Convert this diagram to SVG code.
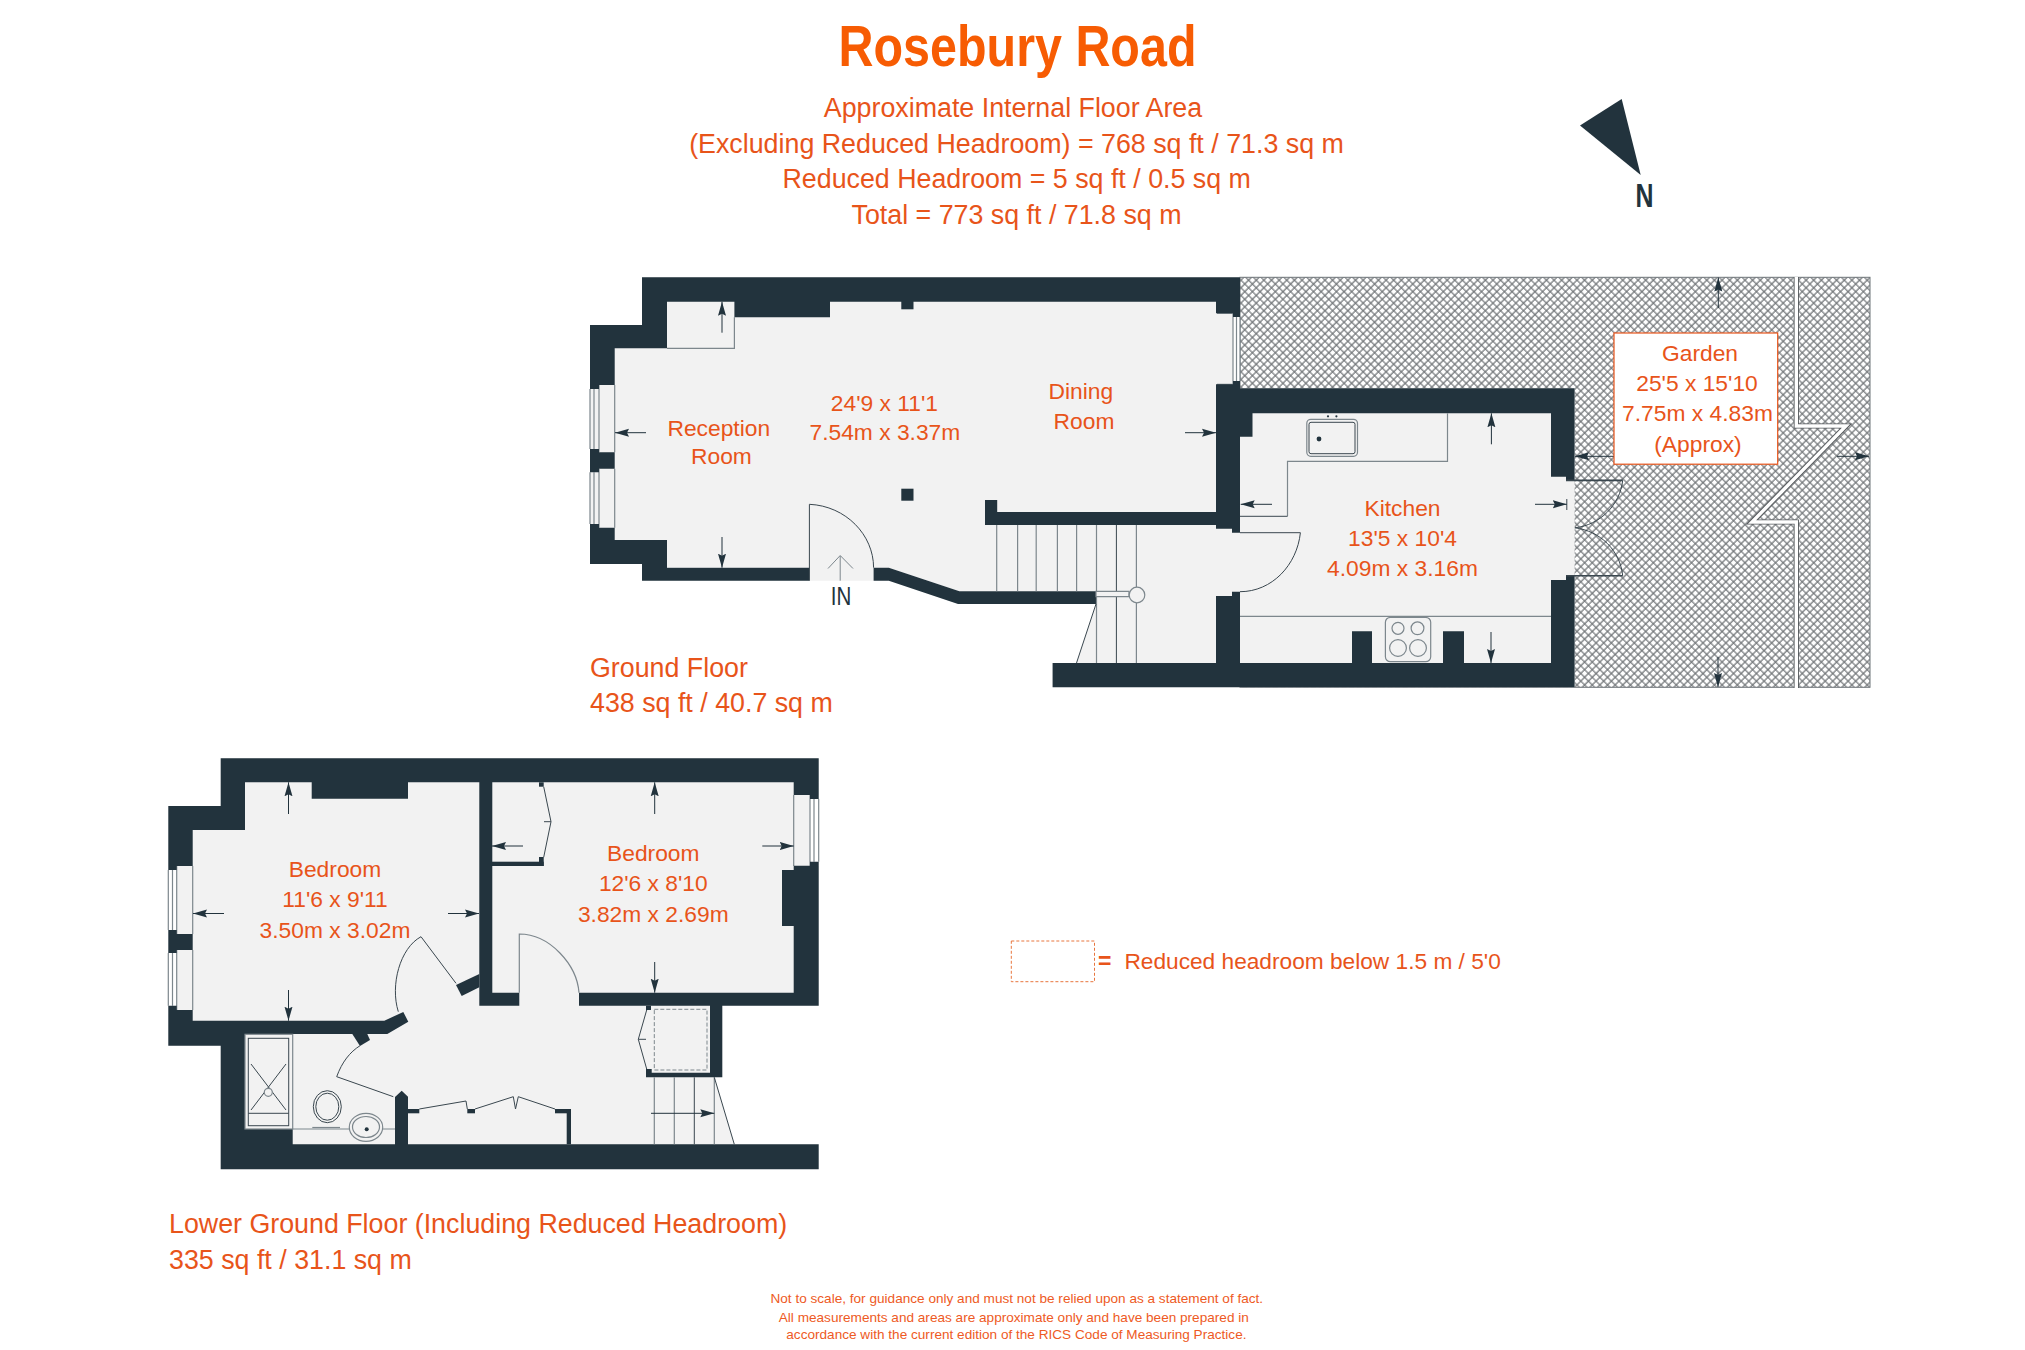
<svg xmlns="http://www.w3.org/2000/svg" width="2025" height="1350" viewBox="0 0 2025 1350">
<style>
text{font-family:"Liberation Sans",Arial,sans-serif;fill:#e8541a}
.c{text-anchor:middle}
.r{font-size:22.8px}
.h{font-size:26.8px}
.d{font-size:13.6px;fill:#ee5a24}
.w{fill:#22333d}
.f{fill:#f2f2f2}
.l{fill:none;stroke:#7d878d;stroke-width:1.2}
.k{fill:none;stroke:#3a474f;stroke-width:1}
.a{fill:none;stroke:#22333d;stroke-width:1;marker-end:url(#ah)}
.g{fill:#f2f2f2;stroke:#7d878d;stroke-width:1.2}
</style>
<defs>
<marker id="ah" markerUnits="userSpaceOnUse" markerWidth="15" markerHeight="10" refX="14" refY="5" orient="auto"><path d="M0 1 L14 5 L0 9 L2 5Z" fill="#22333d"/></marker>
<pattern id="hatch" width="5.4" height="5.4" patternUnits="userSpaceOnUse" patternTransform="rotate(45)"><rect width="5.4" height="5.4" fill="#fff"/><path d="M0 1H5.4M1 0V5.4" stroke="#6c7073" stroke-width="1.2" fill="none"/></pattern>
</defs>
<rect width="2025" height="1350" fill="#fff"/>

<g id="heading">
<text class="c" x="1017.5" y="66" font-size="58" font-weight="700" style="fill:#f75c03" textLength="358" lengthAdjust="spacingAndGlyphs">Rosebury Road</text>
<text class="c h" x="1013" y="116.7">Approximate Internal Floor Area</text>
<text class="c h" x="1016.5" y="152.7">(Excluding Reduced Headroom) = 768 sq ft / 71.3 sq m</text>
<text class="c h" x="1016.7" y="188.3">Reduced Headroom = 5 sq ft / 0.5 sq m</text>
<text class="c h" x="1016.5" y="224.3">Total = 773 sq ft / 71.8 sq m</text>
</g>

<g id="north">
<polygon class="w" points="1621.7,99 1580,125.5 1640.7,174.9"/>
<text class="c" x="1644.5" y="206.5" font-size="33" font-weight="700" style="fill:#22333d" textLength="18" lengthAdjust="spacingAndGlyphs">N</text>
</g>

<g id="garden">
<rect x="1240" y="277.3" width="630" height="410" fill="url(#hatch)" stroke="#6d7478" stroke-width="1"/>
<polyline points="1796.3,277 1796.3,426 1846,426 1752,522 1796.3,522 1796.3,688" fill="none" stroke="#55595c" stroke-width="5.2" stroke-linejoin="miter"/>
<polyline points="1796.3,277 1796.3,426 1846,426 1752,522 1796.3,522 1796.3,688" fill="none" stroke="#fff" stroke-width="3.4" stroke-linejoin="miter"/>
</g>

<g id="ground-floor">
<polygon class="f" points="590,325 642,325 642,277.3 1240,277.3 1240,388.3 1574.6,388.3 1574.6,687.3 1052.6,687.3 1052.6,663 1076.5,663 1096,604 1096,591.3 959.4,591.3 888.8,567.7 873.6,567.7 873.6,580.7 809.4,580.7 809.4,567.7 642,567 642,564 590,564"/>
<rect x="1233" y="313" width="7" height="72" fill="#fff"/>
<path class="l" d="M1233 317V381M1236.5 317V381M1240 317V381M1217 313.3H1233V384.3H1217M734.4 317.3V348.3H667M614.7 385V452.3M614.7 468.7V527.7M599 385V452.3M599 468.7V527.7M590 389V449M594 389V449M590 472.3V524M594 472.3V524"/>
<polygon class="w" points="590,389 590,325 642,325 642,277.3 1240,277.3 1240,317 1233,317 1233,313.3 1216,313.3 1216,301.7 830,301.7 830,317.3 734.4,317.3 734.4,301.7 667,301.7 667,348.3 614.7,348.3 614.7,385 599,385 599,389"/>
<polygon class="w" points="590,449 599,449 599,452.3 614.7,452.3 614.7,468.7 599,468.7 599,472.3 590,472.3"/>
<polygon class="w" points="590,524 599,524 599,527.7 614.7,527.7 614.7,540 667,540 667,567.7 809.4,567.7 809.4,580.7 642,580.7 642,564 590,564"/>
<polygon class="w" points="873.6,567.7 888.8,567.7 959.4,591.3 1096,591.3 1096,604 958,604 888.8,580.7 873.6,580.7"/>
<polygon class="w" points="1216,384.3 1233,384.3 1233,381 1240,381 1240,388.3 1574.6,388.3 1574.6,480.7 1566,480.7 1566,476.7 1551,476.7 1551,413.3 1252.5,413.3 1252.5,436.7 1240,436.7 1240,532.7 1232,532.7 1232,528.7 1216,528.7 1216,525 985,525 985,500 997.2,500 997.2,512 1216,512"/>
<polygon class="w" points="1216,596 1232,596 1232,591.7 1240,591.7 1240,663 1352,663 1352,631.3 1372,631.3 1372,663 1443,663 1443,631.3 1464,631.3 1464,663 1551,663 1551,580 1566,580 1566,576 1574.6,576 1574.6,687.3 1052.6,687.3 1052.6,663 1216,663"/>
<rect class="w" x="901.3" y="301" width="12.2" height="8.3"/>
<rect class="w" x="901.3" y="488.7" width="12.2" height="12"/>
<path class="k" d="M809.4 580.7V504.3C846 506 873.6 535 873.6 567.7M1240 532.7H1300.4C1297 565 1272 591.7 1240 591.7"/>
<path fill="none" stroke="#7d878d" stroke-width="1" d="M840.2 580.7V556M828 568.5L840.2 555.5L853 568.5"/>
<path class="l" d="M996.7 525V591.3M1017.6 525V591.3M1036.2 525V591.3M1057.4 525V591.3M1076.6 525V591.3M1096.5 525V663M1136.4 525V587M1136.4 603V663"/>
<path class="k" d="M1116.4 525V663M1096 604L1076.5 663"/>
<path class="g" d="M1096 591.3H1129V596.7H1096Z"/>
<circle class="g" cx="1137" cy="595" r="7.8"/>
<path class="l" d="M1447.5 413.3V461.3H1287.5V516.3M1240 616.3H1551"/>
<path class="k" d="M1287.5 516.3H1240" stroke-width="1.2"/>
<rect class="l" x="1306.8" y="419.3" width="50.7" height="37" rx="4" fill="none"/>
<rect class="k" x="1309" y="422.3" width="46" height="31.4" rx="2"/>
<circle class="w" cx="1319" cy="439" r="2.4"/>
<circle class="w" cx="1328" cy="416.3" r="1.1"/>
<circle class="w" cx="1336.4" cy="416.3" r="1.1"/>
<rect class="l" x="1385.4" y="617.3" width="45.3" height="44.4" rx="5"/>
<circle class="l" cx="1398" cy="628.3" r="6"/>
<circle class="l" cx="1417.5" cy="628.3" r="6.4"/>
<circle class="l" cx="1398" cy="648" r="8.4"/>
<circle class="l" cx="1418" cy="648" r="8.4"/>
<path fill="none" stroke="#3a474f" stroke-width="1.6" d="M1566 480.4H1622.7M1566 575.7H1622.7"/>
<path class="k" d="M1622.7 480.4C1620 505 1600 525 1575 527.8C1600 531 1620 550 1622.7 575.7"/>
<path class="k" d="M1566.8 499V510"/>
<text class="c" x="841" y="605.3" font-size="25" style="fill:#22333d" textLength="20.5" lengthAdjust="spacingAndGlyphs">IN</text>
</g>

<g id="lower-floor">
<polygon class="f" points="168.3,806 220.7,806 220.7,758.3 818.7,758.3 818.7,1005.7 722.3,1005.7 722.3,1077.3 714.3,1077.3 734.3,1144.3 734.3,1169.3 220.7,1169.3 220.7,1045.7 168.3,1045.7"/>
<rect x="168.3" y="866" width="8.4" height="148" fill="#fff"/>
<rect x="810" y="795" width="8.7" height="71" fill="#fff"/>
<path class="l" d="M192.7 866V934M192.7 950V1010M176.7 866V934M176.7 950V1010M168.3 870V930M172.5 870V930M168.3 953V1005.7M172.5 953V1005.7M793.7 795V866M810 795V866M814 799V861.7M818.7 799V861.7"/>
<polygon class="w" points="168.3,870 168.3,806 220.7,806 220.7,758.3 818.7,758.3 818.7,799 810,799 810,795 793.7,795 793.7,782.3 408,782.3 408,798.7 311.7,798.7 311.7,782.3 245,782.3 245,830 192.7,830 192.7,866 176.7,866 176.7,870"/>
<polygon class="w" points="479.3,782 492.3,782 492.3,992.7 519.3,992.7 519.3,1005.7 479.3,1005.7"/>
<polygon class="w" points="818.7,861.7 810,861.7 810,865.7 793.7,865.7 793.7,870 782,870 782,926 793.7,926 793.7,992.7 579,992.7 579,1005.7 710,1005.7 710,1072.7 651.7,1072.7 651.7,1069 646,1069 646,1077.3 722.3,1077.3 722.3,1005.7 818.7,1005.7"/>
<polygon class="w" points="168.3,930 176.7,930 176.7,934 192.7,934 192.7,950 176.7,950 176.7,953 168.3,953"/>
<polygon class="w" points="168.3,1005.7 176.7,1005.7 176.7,1010 192.7,1010 192.7,1020.7 384.3,1020.7 403.3,1012 408.3,1021.7 387.3,1034 245,1034 245,1129 292.7,1129 292.7,1144.3 395,1144.3 395,1097 401.7,1090.7 408,1096.7 408,1144.3 818.7,1144.3 818.7,1169.3 220.7,1169.3 220.7,1045.7 168.3,1045.7"/>
<polygon class="w" points="456,985 479.3,974 479.3,987.3 461.7,996"/>
<polygon class="w" points="352.3,1034 367.3,1034 370,1040 360,1046"/>
<rect class="w" x="492" y="861.7" width="51.7" height="4.3"/>
<rect class="w" x="539" y="857" width="4.7" height="9"/>
<rect class="w" x="539" y="782.3" width="4.7" height="4.4"/>
<rect class="w" x="646" y="1005.7" width="5" height="4.3"/>
<rect class="w" x="408" y="1109" width="11.3" height="4.3"/>
<rect class="w" x="467.3" y="1109" width="7.7" height="4.3"/>
<rect class="w" x="555" y="1109" width="16" height="4.3"/>
<rect class="w" x="566.7" y="1109" width="4.3" height="35.3"/>
<path class="k" d="M456 983.3L421 936.7C400 948 390 985 398.3 1011.7"/>
<path class="l" d="M519.3 992.7V934C550 934 577 965 579 992.7"/>
<path class="k" d="M393.3 1096.7L336.7 1076.7C342 1062 350 1052 360 1045.7"/>
<path class="k" d="M543.7 786.7L551 821.7L543.7 857.3M551 821.7H544M646.7 1010L638.3 1039.3L646.7 1069M638.3 1039.3H646M419.3 1109L466 1101L467.3 1109M475 1109L513.3 1096.7L515.5 1109L518.3 1096.7L555 1109"/>
<rect x="654.3" y="1009.3" width="52.7" height="60.7" fill="none" stroke="#7d878d" stroke-width="1" stroke-dasharray="4 2"/>
<path class="l" d="M654.3 1077.3V1144.3M674.3 1077.3V1144.3M714.3 1077.3V1144.3"/>
<path class="k" d="M694.3 1077.3V1144.3M714.3 1077.3L734.3 1144.3"/>
<rect class="g" x="245" y="1034.3" width="47.7" height="94.7"/>
<rect class="k" x="248.3" y="1038.3" width="40.4" height="87.4"/>
<path class="k" d="M248.3 1113.3H288.7M251 1064L286 1110M286 1064L251 1110"/>
<circle class="g" cx="268.3" cy="1092.3" r="4"/>
<path class="l" d="M292.7 1129H395"/>
<ellipse class="k" cx="327.3" cy="1106.7" rx="14" ry="16"/>
<ellipse class="k" cx="327.3" cy="1106.7" rx="11.5" ry="13.5"/>
<path class="l" d="M312.3 1127.5H340"/>
<ellipse class="g" cx="366" cy="1127.3" rx="16.7" ry="14"/>
<ellipse class="l" cx="366" cy="1127" rx="13.5" ry="10.5"/>
<circle class="w" cx="366.7" cy="1129.3" r="2"/>
</g>

<g id="connectors">
<path class="a" d="M722 332.7V301.7"/>
<path class="a" d="M722 537V567.7"/>
<path class="a" d="M646 432.7H615"/>
<path class="a" d="M1185 432.7H1216"/>
<path class="a" d="M1491.4 444.3V413.3"/>
<path class="a" d="M1491 632V663"/>
<path class="a" d="M1272 504.3H1240.7"/>
<path class="a" d="M1535 504.3H1566.8"/>
<path class="a" d="M1718.3 308V277.6"/>
<path class="a" d="M1718 657V687"/>
<path class="a" d="M1614 456.3H1575"/>
<path class="a" d="M1837 456.3H1869"/>
<path class="a" d="M288.5 814V782.3"/>
<path class="a" d="M288.5 990V1020.7"/>
<path class="a" d="M224 913.5H193"/>
<path class="a" d="M448 913.5H479"/>
<path class="a" d="M654.7 814V782.3"/>
<path class="a" d="M654.7 962V992.7"/>
<path class="a" d="M523 846H492"/>
<path class="a" d="M762.3 846H793.7"/>
<path class="a" d="M651 1113.3H714.3"/>
</g>

<g id="labels">
<text class="c r" x="718.8" y="435.7">Reception</text>
<text class="c r" x="721.4" y="464.3">Room</text>
<text class="c r" x="884.4" y="410.7">24'9 x 11'1</text>
<text class="c r" x="884.9" y="440">7.54m x 3.37m</text>
<text class="c r" x="1080.9" y="399.3">Dining</text>
<text class="c r" x="1084" y="429">Room</text>
<text class="c r" x="1402.5" y="515.7">Kitchen</text>
<text class="c r" x="1402.5" y="545.7">13'5 x 10'4</text>
<text class="c r" x="1402.5" y="575.7">4.09m x 3.16m</text>
<rect x="1614" y="333" width="163.7" height="131.2" fill="#fff" stroke="#e8541a" stroke-width="1.2"/>
<text class="c r" x="1700" y="360.6">Garden</text>
<text class="c r" x="1697" y="391">25'5 x 15'10</text>
<text class="c r" x="1697.5" y="420.7">7.75m x 4.83m</text>
<text class="c r" x="1698" y="451.5">(Approx)</text>
<text class="c r" x="335" y="877.3">Bedroom</text>
<text class="c r" x="335" y="907.3">11'6 x 9'11</text>
<text class="c r" x="335" y="937.7">3.50m x 3.02m</text>
<text class="c r" x="653.3" y="861">Bedroom</text>
<text class="c r" x="653.3" y="891">12'6 x 8'10</text>
<text class="c r" x="653.3" y="921.7">3.82m x 2.69m</text>
<text class="h" x="590" y="676.7">Ground Floor</text>
<text class="h" x="590" y="711.7">438 sq ft / 40.7 sq m</text>
<text class="h" x="169" y="1233.3">Lower Ground Floor (Including Reduced Headroom)</text>
<text class="h" x="169" y="1269.3">335 sq ft / 31.1 sq m</text>
<rect x="1011.3" y="941" width="83.2" height="40.7" fill="none" stroke="#e8763e" stroke-width="1" stroke-dasharray="3 2"/>
<text font-size="23" font-weight="700" x="1098" y="969.3">=</text>
<text font-size="22.7" x="1124.4" y="969.3">Reduced headroom below 1.5 m / 5'0</text>
<text class="c d" x="1016.8" y="1303.3">Not to scale, for guidance only and must not be relied upon as a statement of fact.</text>
<text class="c d" x="1013.8" y="1321.7">All measurements and areas are approximate only and have been prepared in</text>
<text class="c d" x="1016.4" y="1339">accordance with the current edition of the RICS Code of Measuring Practice.</text>
</g>
</svg>
